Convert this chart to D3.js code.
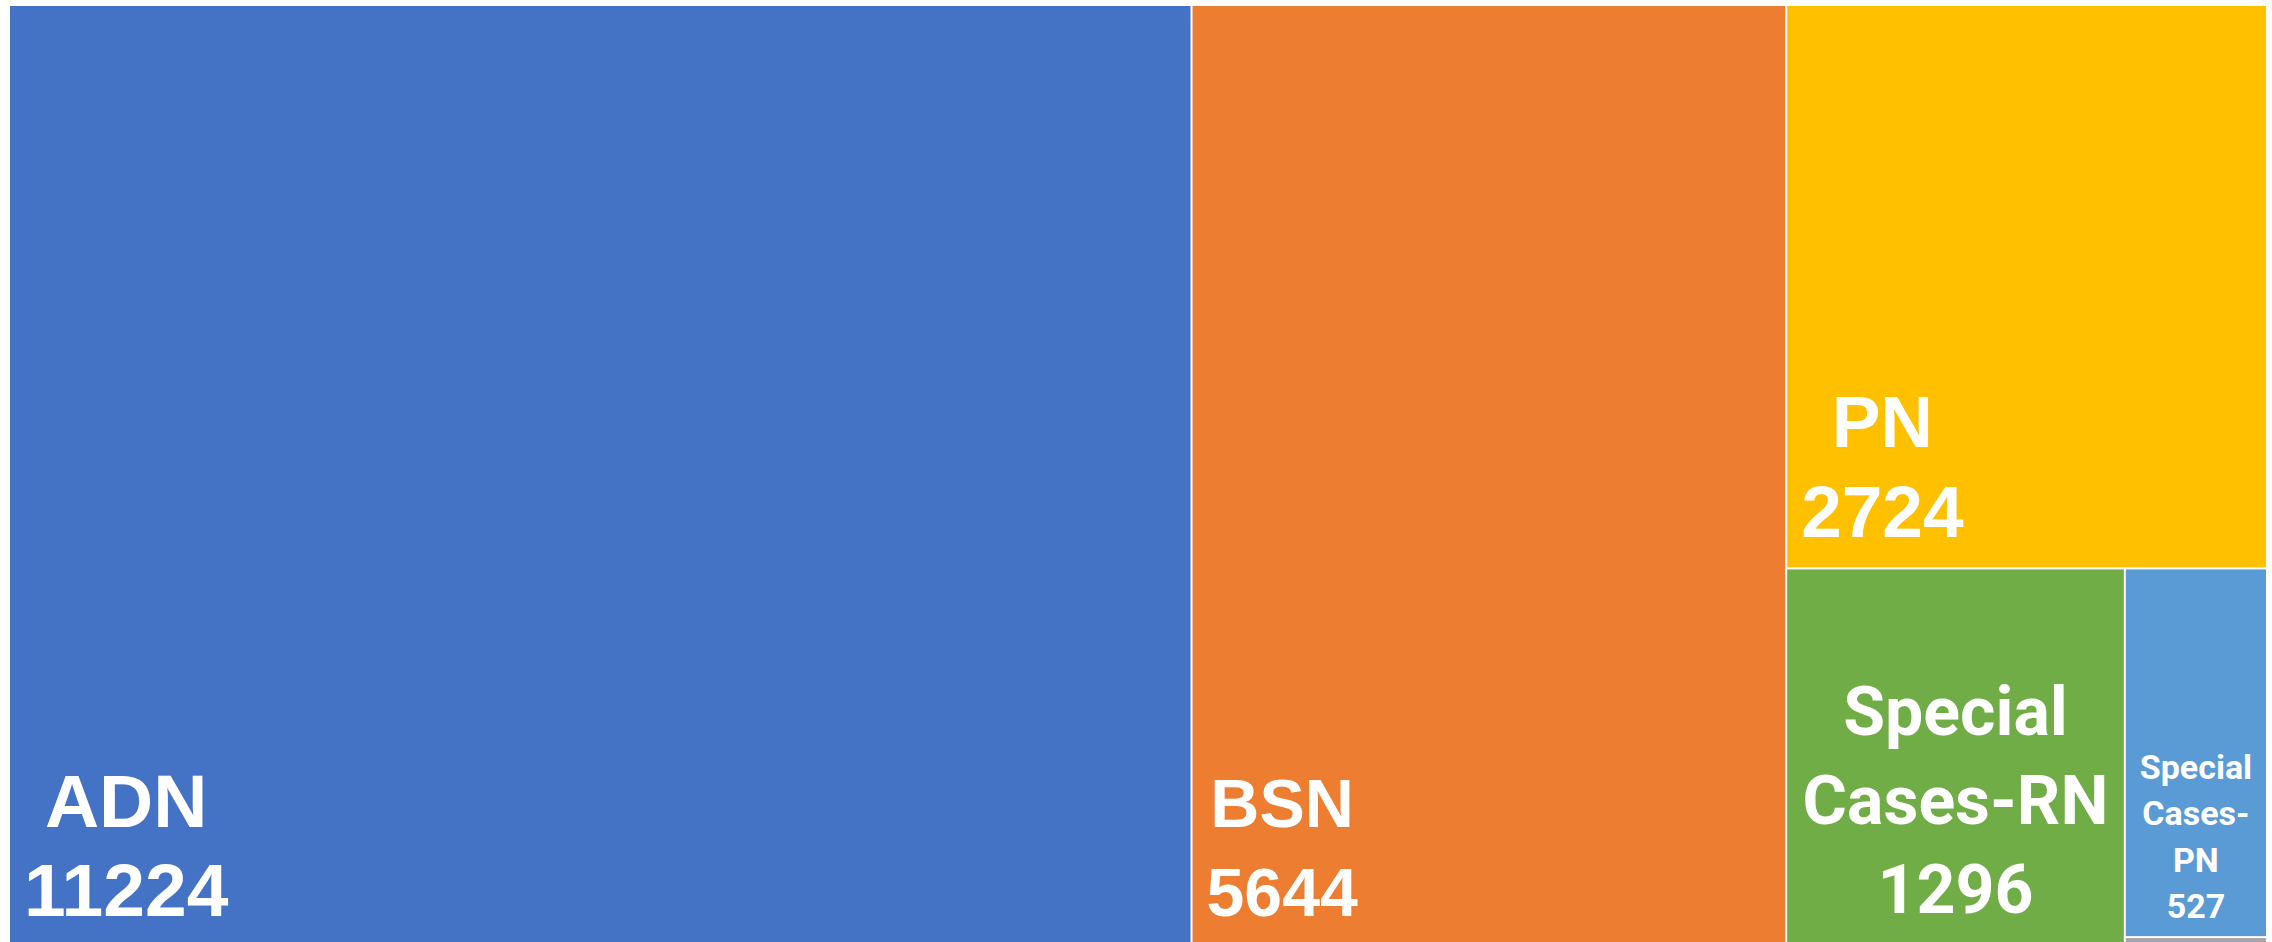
<!DOCTYPE html>
<html>
<head>
<meta charset="utf-8">
<script src="https://cdn.jsdelivr.net/npm/d3@7/dist/d3.min.js"></script>
<style>
  html, body { margin: 0; padding: 0; background: #ffffff; overflow: hidden; }
  svg { display: block; }
</style>
</head>
<body>
<svg id="chart" width="2272" height="942"></svg>
<script>
// ---- data ----
const categories = ["ADN", "BSN", "PN", "Special Cases-RN", "Special Cases-PN", "Other"];
const values     = [11224, 5644, 2724, 1296, 527, 17];
const colors     = ["#4472C4", "#ED7D31", "#FFC000", "#70AD47", "#5B9BD5", "#A5A5A5"];

// ---- label styling (per cell) ----
const labelStyle = {
  "ADN":              { mode: "corner", size: 75, lh: 89, pad: 32 },
  "BSN":              { mode: "corner", size: 68, lh: 89, pad: 32 },
  "PN":               { mode: "corner", size: 73, lh: 90, pad: 30 },
  "Special Cases-RN": { mode: "center", size: 68, lh: 89, pad: 35 },
  "Special Cases-PN": { mode: "center", size: 34, lh: 46.5, pad: 18 }
};

// ---- layout ----
const marginLeft = 10, marginTop = 6, plotW = 2256, plotH = 942;

const svg = d3.select("#chart");

const root = d3.hierarchy({
  name: "root",
  children: categories.map((c, i) => ({ name: c, value: values[i], color: colors[i] }))
})
  .sum(d => d.value || 0)
  .sort((a, b) => b.value - a.value);

d3.treemap()
  .tile(d3.treemapSquarify.ratio(1))
  .size([plotW, plotH])
  .paddingInner(2)
  .round(false)(root);

const g = svg.append("g").attr("transform", `translate(${marginLeft},${marginTop})`);

const cell = g.selectAll("g.cell")
  .data(root.leaves())
  .join("g")
  .attr("class", "cell");

cell.append("rect")
  .attr("x", d => d.x0)
  .attr("y", d => d.y0)
  .attr("width", d => d.x1 - d.x0)
  .attr("height", d => d.y1 - d.y0)
  .attr("fill", d => d.data.color);

function wrapName(name, maxW, measure) {
  const tokens = name.match(/[^\s-]+-?|\s+/g).filter(t => t.trim().length);
  const lines = [];
  let cur = "";
  tokens.forEach(t => {
    const sep = (cur === "" || cur.endsWith("-")) ? "" : " ";
    const trial = cur + sep + t;
    if (cur !== "" && measure(trial) > maxW) {
      lines.push(cur);
      cur = t;
    } else {
      cur = trial;
    }
  });
  if (cur) lines.push(cur);
  return lines;
}

cell.each(function(d) {
  const st = labelStyle[d.data.name];
  const w = d.x1 - d.x0, h = d.y1 - d.y0;
  if (!st || h < 40) return; // too small for a label
  const sel = d3.select(this);
  const big = st.mode === "corner";
  const fontFamily = big ? "'Liberation Sans', Arial, sans-serif" : "Roboto, 'Liberation Sans', sans-serif";
  const fs = st.size;

  const text = sel.append("text")
    .attr("fill", "#ffffff")
    .attr("font-family", fontFamily)
    .attr("font-weight", "bold")
    .attr("font-size", fs)
    .attr("text-anchor", "middle");

  const measureNode = sel.append("text")
    .attr("font-family", fontFamily)
    .attr("font-weight", "bold")
    .attr("font-size", fs)
    .attr("visibility", "hidden");
  const measure = s => { measureNode.text(s); return measureNode.node().getComputedTextLength(); };

  let lines;
  if (big) {
    lines = [d.data.name, String(d.data.value)];
  } else {
    lines = wrapName(d.data.name, w - 8, measure).concat([String(d.data.value)]);
  }
  const blockW = d3.max(lines, l => measure(l));
  measureNode.remove();

  const cx = big ? d.x0 + 14 + blockW / 2 : (d.x0 + d.x1) / 2;
  const lastBaseline = d.y1 - st.pad;
  const n = lines.length;
  lines.forEach((l, i) => {
    text.append("tspan")
      .attr("x", cx)
      .attr("y", lastBaseline - (n - 1 - i) * st.lh)
      .text(l);
  });
});
</script>
</body>
</html>
